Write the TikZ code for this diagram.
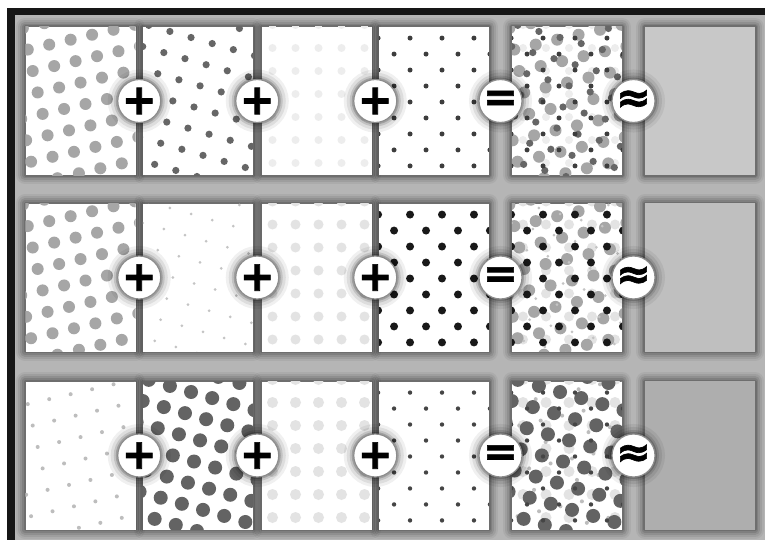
\documentclass[tikz,border=0pt]{standalone}
\usepackage{fontspec}
\newfontfamily\simboli{DejaVu Sans}[FakeBold=1.6]
\usetikzlibrary{calc, backgrounds}
\definecolor{sfondo}{HTML}{B5B5B5}
\definecolor{cornice}{HTML}{161616}
\definecolor{piattoa}{HTML}{C8C8C8}
\definecolor{piattob}{HTML}{BFBFBF}
\definecolor{piattoc}{HTML}{AEAEAE}
\tikzset{
  % pannello con retino
  pannello/.style={minimum width=110pt, minimum height=148pt, inner sep=0pt, fill=white},
  % ombra attorno ai pannelli
  ombra/.style={draw=black, line join=round},
  % cerchio dell'operatore
  opcerchio/.style={circle, minimum size=43pt, inner sep=0pt, fill=white, draw=black!45,
    line width=1.2pt,
    preaction={draw=black, opacity=.06, line width=20pt},
    preaction={draw=black, opacity=.08, line width=14pt},
    preaction={draw=black, opacity=.12, line width=8pt},
    preaction={draw=black, opacity=.18, line width=4pt}},
  opsimbolo/.style={font=\simboli\bfseries\fontsize{42}{42}\selectfont, inner sep=0pt},
}
% retino: pannello, angolo, passo, raggio, colore, sfasamento
\newcommand{\retino}[6]{%
  \begin{scope}
    \clip (#1.south west) rectangle (#1.north east);
    \foreach \i in {-5,...,5}
      \foreach \j in {-5,...,5}
        \fill[#5] ($(#1.center)+(#6)+({#3*(\i*cos(#2)-\j*sin(#2))},{#3*(\i*sin(#2)+\j*cos(#2))})$) circle (#4pt);
  \end{scope}}

\begin{document}
\begin{tikzpicture}[x=1pt, y=-1pt]
  \useasboundingbox (0,0) rectangle (765,540);
  % pannelli
  \foreach \r/\y in {1/101, 2/277.5, 3/455.5}
    \foreach \c/\x in {1/80.5, 2/198, 3/316.5, 4/434, 5/567, 6/700}
      \node[pannello] (p\r\c) at (\x,\y) {};
  \foreach \r/\g in {1/piattoa, 2/piattob, 3/piattoc}
    \fill[\g] (p\r6.south west) rectangle (p\r6.north east);
  % retini delle quattro lastre e la loro somma
  \foreach \r/\ra/\ka/\rb/\kb/\rc/\kc/\rd/\kd in {
      1/6/35/3.6/60/4/7/2.5/76,
      2/6/35/1.5/23/5/11/4/90,
      3/2/26/7/61/5.5/11/2.2/73} {
    \retino{p\r1}{-13}{22}{\ra}{black!\ka}{5,3}
    \retino{p\r2}{16}{22}{\rb}{black!\kb}{-4,6}
    \retino{p\r3}{0}{23}{\rc}{black!\kc}{2,-7}
    \retino{p\r4}{45}{22.6}{\rd}{black!\kd}{8,1}
    \retino{p\r5}{0}{23}{\rc}{black!\kc}{2,-7}
    \retino{p\r5}{-13}{22}{\ra}{black!\ka}{5,3}
    \retino{p\r5}{16}{22}{\rb}{black!\kb}{-4,6}
    \retino{p\r5}{45}{22.6}{\rd}{black!\kd}{8,1}
  }
  % operatori
  \foreach \r in {1,2,3}
    \foreach \a/\b/\s [count=\k] in {1/2/+, 2/3/+, 3/4/+, 4/5/=, 5/6/≈} {
      \node[opcerchio] (o\r\k) at ($(p\r\a.east)!.5!(p\r\b.west)$) {};
      \node[opsimbolo] (s\r\k) at (o\r\k) {\s};
    }
  % sfondo, cornice e ombre
  \begin{scope}[on background layer]
    \fill[white] (0,0) rectangle (765,540);
    \fill[cornice] (7,8) rectangle (765,540);
    \fill[sfondo] (15,15) rectangle (765,540);
    \foreach \r in {1,2,3}
      \foreach \c in {1,...,6}
        \foreach \w/\o in {18/.05, 14/.07, 10/.09, 6/.11, 3/.13}
          \draw[ombra, opacity=\o, line width=\w pt] (p\r\c.south west) rectangle (p\r\c.north east);
  \end{scope}
\end{tikzpicture}
\end{document}
